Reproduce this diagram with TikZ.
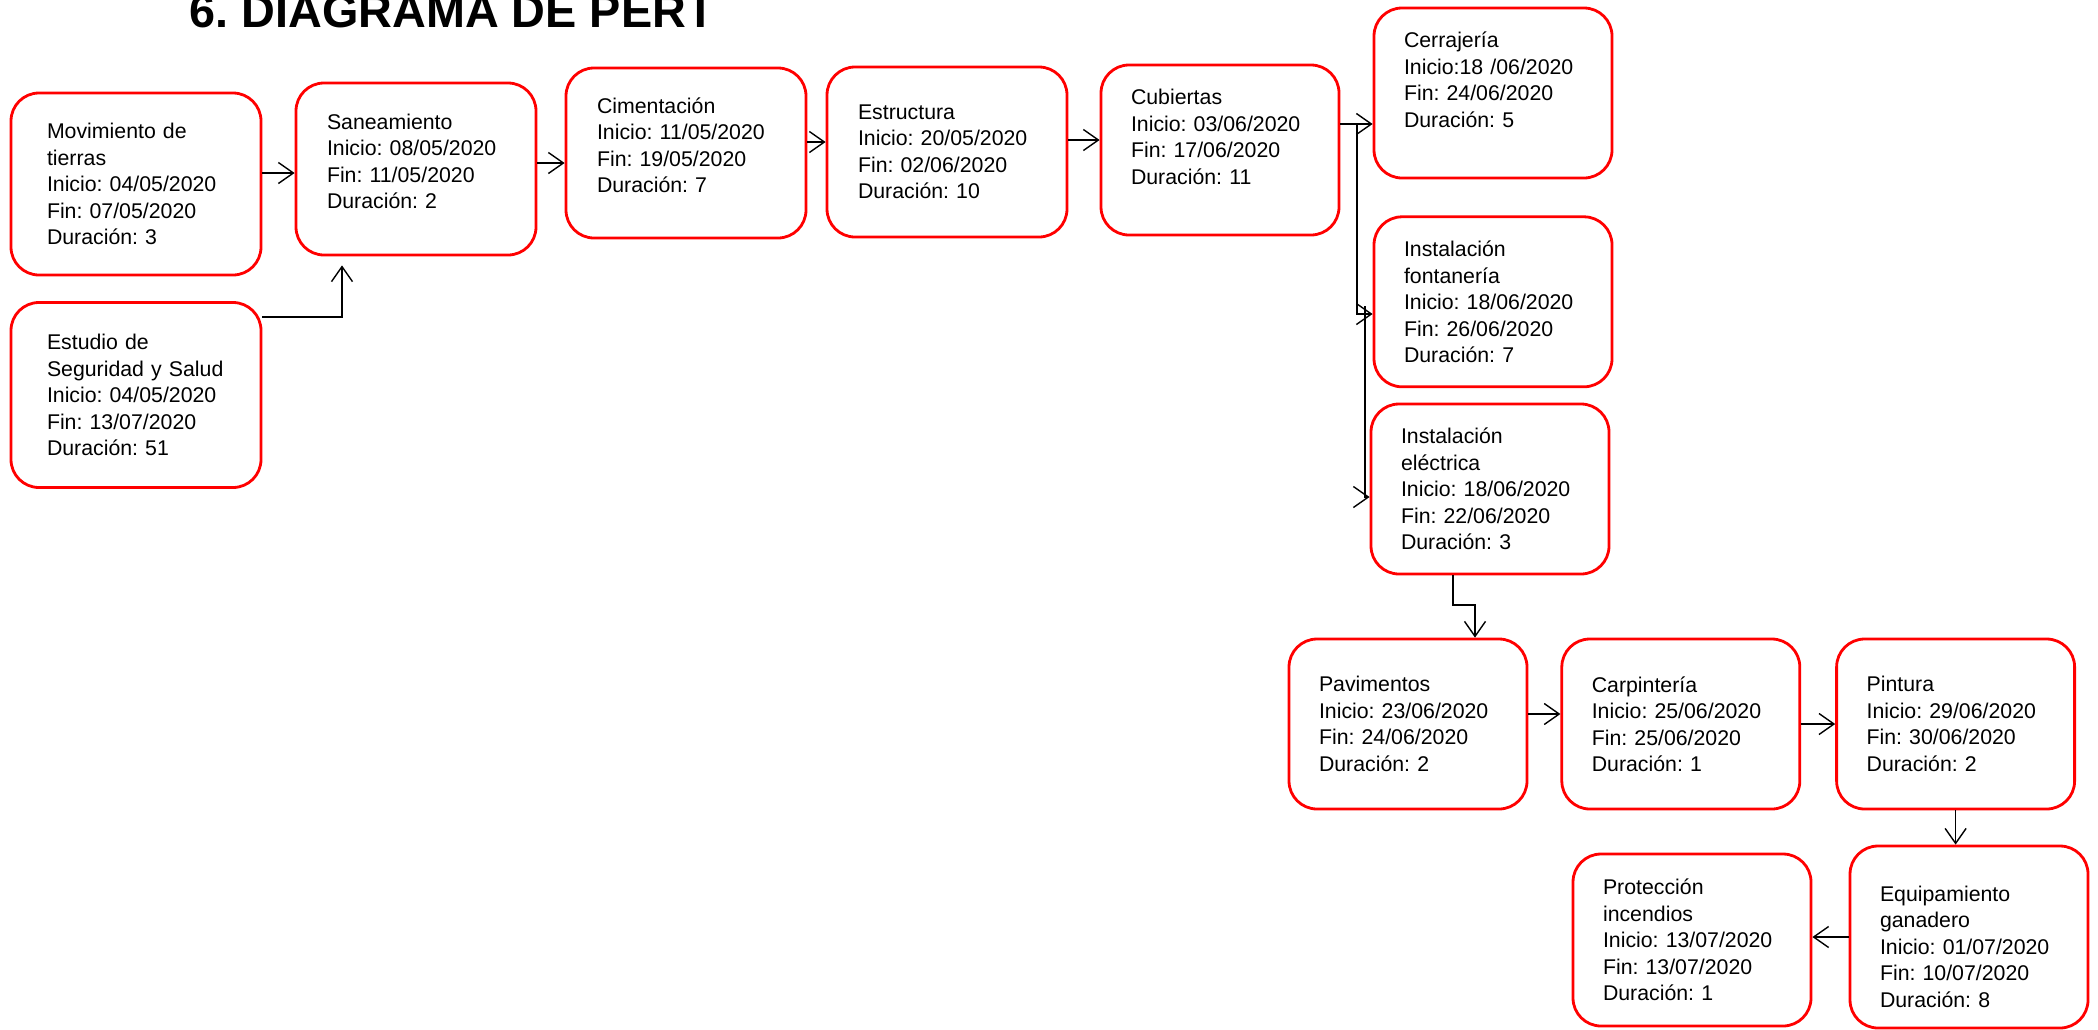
\documentclass[tikz,border=0pt]{standalone}
\usepackage{fontspec}
\setmainfont{Liberation Sans}
\usetikzlibrary{arrows.meta, positioning}
\frenchspacing

\begin{document}
\begin{tikzpicture}[x=1pt, y=-1pt,
            node distance=36pt,
            box/.style={rectangle, draw=red, line width=2.8pt, rounded corners=28pt, minimum width=240pt, minimum height=170pt, text width=178pt, inner xsep=0pt, inner ysep=0pt, align=left, font=\fontsize{21.3}{26.5}\selectfont},
            arrow/.style={-{Straight Barb[length=15pt,width=21pt]}, line width=1.4pt}
        ]
            \path[use as bounding box, fill=white] (0,0) rectangle (2098,1029);
            \node[anchor=base west, font=\fontsize{46.8}{50}\selectfont\bfseries] (title) at (186,27) {6. DIAGRAMA DE PERT};

            % first row
            \node[box, minimum width=250pt, minimum height=182pt] (mov) at (136,184) {Movimiento de\\tierras\\Inicio: 04/05/2020\\Fin: 07/05/2020\\Duración: 3};
            \node[box, minimum height=172pt] (san) at (416,169) {Saneamiento\\Inicio: 08/05/2020\\Fin: 11/05/2020\\Duración: 2\\[-11pt]~};
            \node[box] (cim) at (686,153) {Cimentación\\Inicio: 11/05/2020\\Fin: 19/05/2020\\Duración: 7\\[-11pt]~};
            \node[box] (est) at (947,152) {Estructura\\Inicio: 20/05/2020\\Fin: 02/06/2020\\Duración: 10};
            \node[box, minimum width=238pt] (cub) at (1220,150) {Cubiertas\\Inicio: 03/06/2020\\Fin: 17/06/2020\\Duración: 11\\~};
            \node[box, minimum width=250pt, minimum height=185pt] (ssalud) at (136,395) {Estudio de\\Seguridad y Salud\\Inicio: 04/05/2020\\Fin: 13/07/2020\\Duración: 51};

            % instalaciones
            \node[box, minimum width=238pt] (cerr) at (1493,93) {Cerrajería\\Inicio:18 /06/2020\\Fin: 24/06/2020\\Duración: 5\\~};
            \node[box, minimum width=238pt, below=36pt of cerr] (font) {Instalación\\fontanería\\Inicio: 18/06/2020\\Fin: 26/06/2020\\Duración: 7};
            \node[box, minimum width=238pt] (elec) at (1490,489) {Instalación\\eléctrica\\Inicio: 18/06/2020\\Fin: 22/06/2020\\Duración: 3};

            % acabados
            \node[box, minimum width=238pt] (pav) at (1408,724) {Pavimentos\\Inicio: 23/06/2020\\Fin: 24/06/2020\\Duración: 2};
            \node[box, minimum width=238pt, right=32pt of pav] (carp) {Carpintería\\Inicio: 25/06/2020\\Fin: 25/06/2020\\Duración: 1};
            \node[box, minimum width=238pt, right=34pt of carp] (pint) {Pintura\\Inicio: 29/06/2020\\Fin: 30/06/2020\\Duración: 2};
            \node[box, minimum width=238pt, minimum height=182pt] (equip) at (1969,937) {\rule{0pt}{35pt}Equipamiento\\ganadero\\Inicio: 01/07/2020\\Fin: 10/07/2020\\Duración: 8};
            \node[box, minimum width=238pt, minimum height=172pt] (prot) at (1692,940) {Protección\\incendios\\Inicio: 13/07/2020\\Fin: 13/07/2020\\Duración: 1};

            % junctions
            \coordinate (r1) at (0,173);
            \coordinate (r2) at (0,163);
            \coordinate (r3) at (0,142);
            \coordinate (r4) at (0,140);
            \coordinate (j1) at (342,317);
            \coordinate (k1) at (1357,124);
            \coordinate (k2) at (1357,314);
            \coordinate (k3) at (1365,306);
            \coordinate (k4) at (1365,497);
            \coordinate (m1) at (1453,605);
            \coordinate (m2) at (1475,605);
            \coordinate (r5) at (0,714);

            \draw[arrow] (mov.east |- r1) -- (san.west |- r1);
            \draw[arrow] (san.east |- r2) -- (cim.west |- r2);
            \draw[arrow] (cim.east |- r3) -- (est.west |- r3);
            \draw[arrow] (est.east |- r4) -- (cub.west |- r4);
            \draw[arrow, shorten >=9pt] (ssalud.east |- j1) -- (j1) -- (j1 |- san.south);
            \draw[arrow] (cub.east |- k1) -- (cerr.west |- k1);
            \draw[arrow] (k1) -- (k2) -- (font.west |- k2);
            \draw[arrow] (k3) -- (k4) -- (elec.west |- k4);
            \draw[arrow] (elec.south -| m1) -- (m1) -- (m2) -- (m2 |- pav.north);
            \draw[arrow] (pav.east |- r5) -- (carp.west |- r5);
            \draw[arrow] (carp.east) -- (carp.east -| pint.west);
            \draw[arrow] (pint.south) -- (pint.south |- equip.north);
            \draw[arrow] (equip.west) -- (equip.west -| prot.east);
        \end{tikzpicture}
\end{document}
